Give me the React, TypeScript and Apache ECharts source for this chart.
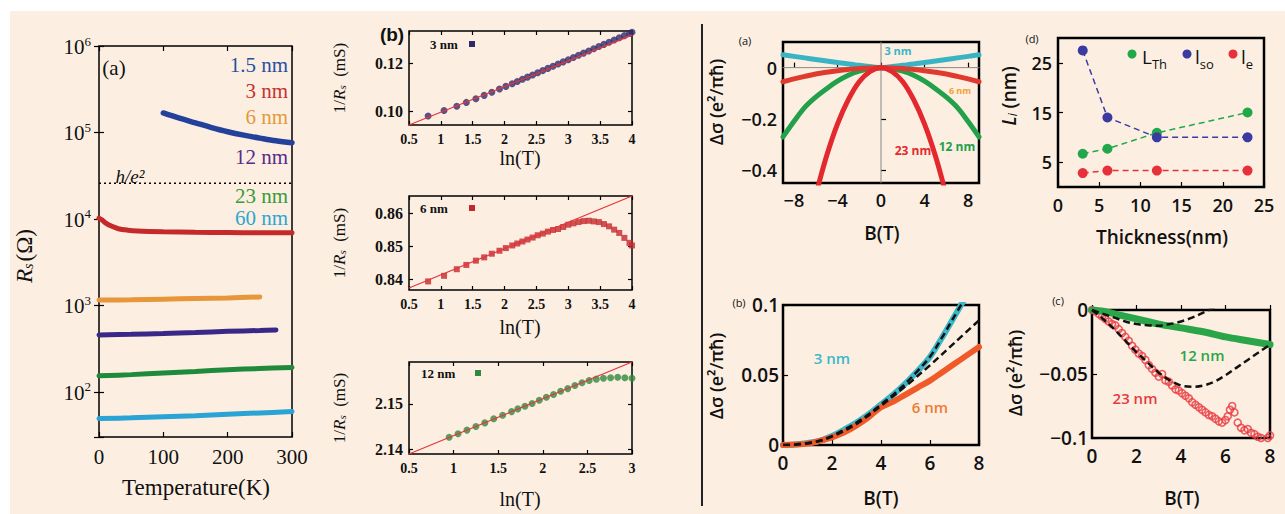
import React, { useEffect, useRef } from "react";
import * as echarts from "echarts";

// ---------- Left panel (a): R_s vs Temperature ----------
const tA15 = [100, 125, 150, 175, 200, 225, 250, 275, 300];
const rA15 = [168000, 146000, 129000, 114000, 102000, 93000, 86000, 80000, 76000];
const tA3 = [0, 5, 10, 20, 30, 45, 60, 100, 150, 200, 250, 300];
const rA3 = [10200, 9700, 9000, 8200, 7700, 7400, 7250, 7100, 7000, 6950, 6900, 6900];
const tA6 = [0, 50, 100, 150, 200, 250];
const rA6 = [1150, 1160, 1180, 1200, 1220, 1250];
const tA12 = [0, 50, 100, 150, 200, 250, 275];
const rA12 = [455, 462, 472, 485, 500, 512, 520];
const tA23 = [0, 50, 100, 150, 200, 250, 300];
const rA23 = [153, 158, 165, 172, 180, 186, 191];
const tA60 = [0, 50, 100, 150, 200, 250, 300];
const rA60 = [49, 50, 51.5, 53, 55, 57, 59];
const hOverE2 = 25813;

// ---------- Middle panels (b): 1/R_s vs ln(T) ----------
const lnT1 = [0.8, 1.05, 1.25, 1.4, 1.55, 1.68, 1.8, 1.92, 2.02, 2.12, 2.2, 2.28, 2.36, 2.44, 2.52, 2.6, 2.68, 2.76, 2.84, 2.92, 3.0, 3.08, 3.16, 3.24, 3.32, 3.4, 3.48, 3.56, 3.64, 3.72, 3.8, 3.88, 3.96, 4.0];
const g1 = [0.0982, 0.1005, 0.1022, 0.1038, 0.1053, 0.1067, 0.108, 0.1093, 0.1104, 0.1115, 0.1124, 0.1133, 0.1142, 0.1151, 0.116, 0.1169, 0.1178, 0.1187, 0.1196, 0.1205, 0.1214, 0.1223, 0.1232, 0.1241, 0.125, 0.1259, 0.1268, 0.1277, 0.1286, 0.1295, 0.1304, 0.1313, 0.1322, 0.1327];
const fit1X = [0.5, 4];
const fit1Y = [0.0945, 0.1315];

const lnT2 = [0.8, 1.05, 1.25, 1.4, 1.55, 1.68, 1.8, 1.92, 2.02, 2.12, 2.2, 2.28, 2.36, 2.44, 2.52, 2.6, 2.68, 2.76, 2.84, 2.92, 3.0, 3.08, 3.16, 3.24, 3.32, 3.4, 3.48, 3.56, 3.64, 3.72, 3.8, 3.88, 3.96, 4.0];
const g2 = [0.8393, 0.841, 0.843, 0.8443, 0.8456, 0.8466, 0.8477, 0.8486, 0.8494, 0.8502, 0.8508, 0.8514, 0.852, 0.8526, 0.8533, 0.8538, 0.8544, 0.8549, 0.8552, 0.8558, 0.8565, 0.8569, 0.8573, 0.8576, 0.8577, 0.8575, 0.8573, 0.8567, 0.856, 0.855, 0.854, 0.8525, 0.851, 0.8502];
const fit2X = [0.5, 4];
const fit2Y = [0.8373, 0.8652];

const lnT3 = [0.95, 1.05, 1.15, 1.25, 1.35, 1.45, 1.55, 1.65, 1.72, 1.8, 1.88, 1.96, 2.04, 2.12, 2.2, 2.28, 2.36, 2.44, 2.52, 2.6, 2.68, 2.76, 2.84, 2.92, 3.0];
const g3 = [2.1426, 2.1434, 2.1442, 2.145, 2.1458, 2.1467, 2.1475, 2.1483, 2.1489, 2.1495, 2.1501, 2.1508, 2.1515, 2.1521, 2.1528, 2.1534, 2.1541, 2.1547, 2.1552, 2.1555, 2.1557, 2.1558, 2.1559, 2.1558, 2.1557];
const fit3X = [0.5, 3];
const fit3Y = [2.1389, 2.1593];

// ---------- Right (a): Δσ vs B, symmetric ----------
const bA = [-9, -8, -7, -6, -5, -4, -3, -2, -1, 0, 1, 2, 3, 4, 5, 6, 7, 8, 9];
const dA3 = [0.05, 0.044, 0.038, 0.032, 0.026, 0.02, 0.014, 0.009, 0.004, 0, 0.004, 0.009, 0.014, 0.02, 0.026, 0.032, 0.038, 0.044, 0.05];
const dA6 = [-0.055, -0.044, -0.034, -0.025, -0.018, -0.012, -0.007, -0.003, -0.001, 0, -0.001, -0.003, -0.007, -0.012, -0.018, -0.025, -0.034, -0.044, -0.055];
const dA12 = [-0.27, -0.21, -0.155, -0.115, -0.082, -0.053, -0.03, -0.014, -0.004, 0, -0.004, -0.014, -0.03, -0.053, -0.082, -0.115, -0.155, -0.21, -0.27];
const bA23 = [-7, -6, -5, -4, -3, -2, -1, 0, 1, 2, 3, 4, 5, 6, 7];
const dA23 = [-0.68, -0.5, -0.345, -0.22, -0.125, -0.055, -0.015, 0, -0.015, -0.055, -0.125, -0.22, -0.345, -0.5, -0.68];

// ---------- Right (d): lengths vs thickness ----------
const thick = [3, 6, 12, 23];
const lTh = [6.7, 7.7, 10.9, 15];
const lSo = [27.5, 14, 10, 10];
const lE = [2.8, 3.3, 3.3, 3.3];

// ---------- Right (b) ----------
const bB = [0, 0.5, 1, 1.5, 2, 2.5, 3, 3.5, 4, 4.5, 5, 5.5, 6, 6.5, 7, 7.5];
const dB3 = [0, 0.0004, 0.0015, 0.003, 0.0065, 0.011, 0.016, 0.022, 0.029, 0.036, 0.044, 0.053, 0.063, 0.077, 0.092, 0.107];
const bB6 = [0, 0.5, 1, 1.5, 2, 2.5, 3, 3.5, 4, 4.5, 5, 5.5, 6, 6.5, 7, 7.5, 8];
const dB6 = [0, 0.0003, 0.001, 0.003, 0.0055, 0.009, 0.014, 0.02, 0.027, 0.031, 0.036, 0.041, 0.046, 0.052, 0.058, 0.064, 0.07];
const bB6fit = [0, 1, 2, 3, 4, 5, 6, 7, 8];
const dB6fit = [0, 0.001, 0.006, 0.015, 0.028, 0.042, 0.057, 0.073, 0.089];

// ---------- Right (c) ----------
const bC12 = [0, 0.5, 1, 2, 3, 4, 5, 6, 7, 8];
const dC12 = [0, -0.001, -0.003, -0.007, -0.011, -0.014, -0.017, -0.021, -0.024, -0.027];
const bC12fit = [0, 0.5, 1, 1.5, 2, 2.5, 3, 3.5, 4, 4.5, 5, 5.5, 6];
const dC12fit = [0, -0.003, -0.006, -0.009, -0.011, -0.012, -0.0123, -0.011, -0.009, -0.006, -0.002, 0.002, 0.007];
const bC23 = [0, 0.15, 0.3, 0.45, 0.6, 0.75, 0.9, 1.05, 1.2, 1.35, 1.5, 1.65, 1.8, 1.95, 2.1, 2.25, 2.4, 2.55, 2.7, 2.85, 3.0, 3.15, 3.3, 3.45, 3.6, 3.75, 3.9, 4.05, 4.2, 4.35, 4.5, 4.65, 4.8, 4.95, 5.1, 5.25, 5.4, 5.55, 5.7, 5.85, 6.0, 6.1, 6.2, 6.3, 6.4, 6.55, 6.7, 6.85, 7.0, 7.15, 7.3, 7.45, 7.6, 7.75, 7.9, 8.0];
const dC23 = [0, -0.001, -0.003, -0.005, -0.007, -0.009, -0.011, -0.012, -0.015, -0.018, -0.021, -0.024, -0.028, -0.031, -0.034, -0.036, -0.039, -0.043, -0.046, -0.049, -0.052, -0.05, -0.055, -0.056, -0.059, -0.062, -0.063, -0.065, -0.067, -0.069, -0.072, -0.074, -0.076, -0.078, -0.08, -0.082, -0.083, -0.085, -0.087, -0.088, -0.086, -0.083, -0.078, -0.075, -0.08, -0.088, -0.092, -0.094, -0.093, -0.096, -0.097, -0.099, -0.1, -0.101, -0.1, -0.098];
const bC23fit = [0, 0.5, 1, 1.5, 2, 2.5, 3, 3.5, 4, 4.5, 5, 5.5, 6, 6.5, 7, 7.5, 8];
const dC23fit = [0, -0.007, -0.015, -0.024, -0.033, -0.041, -0.049, -0.055, -0.059, -0.06, -0.059, -0.056, -0.051, -0.045, -0.039, -0.033, -0.027];

const SERIF = '"Liberation Serif", "DejaVu Serif", serif';
const SANS = '"Open Sans", "Liberation Sans", sans-serif';
const BG = "#fcefe2";

const zip = (xs: number[], ys: number[]) => xs.map((x, i) => [x, ys[i]]);
const minus = (v: number) => String(Number(v.toFixed(4))).replace("-", "\u2212");

export default function App() {
  const ref = useRef<HTMLDivElement>(null);
  useEffect(() => {
    if (!ref.current) return;
    const chart = echarts.init(ref.current, undefined, { renderer: "svg" });

    const grids: any[] = [];
    const xAxes: any[] = [];
    const yAxes: any[] = [];
    const addGrid = (g: any, xc: any, yc: any, mirror: boolean, bw = 1.5) => {
      const gi = grids.length;
      grids.push({ ...g, show: true, borderColor: "#000", borderWidth: bw, backgroundColor: "transparent" });
      const xi = xAxes.length;
      xAxes.push({ gridIndex: gi, position: "bottom", ...xc });
      const yi = yAxes.length;
      yAxes.push({ gridIndex: gi, position: "left", ...yc });
      if (mirror) {
        xAxes.push({ ...xc, gridIndex: gi, position: "top", axisLabel: { ...(xc.axisLabel || {}), show: false } });
        yAxes.push({ ...yc, gridIndex: gi, position: "right", axisLabel: { ...(yc.axisLabel || {}), show: false } });
      }
      return { xi, yi };
    };
    const tick = (extra: any = {}) => ({ inside: true, length: 5, lineStyle: { color: "#000", width: 1.2 }, ...extra });
    const base = { axisLine: { show: false }, splitLine: { show: false } };

    // Left (a)
    const A = addGrid(
      { left: 99, top: 46, width: 193, height: 391 },
      { ...base, type: "value", min: 0, max: 300, interval: 100, axisTick: tick(), axisLabel: { fontFamily: SERIF, fontSize: 21, color: "#111", margin: 9 } },
      {
        ...base, type: "log", logBase: 10, min: 30, max: 1e6, axisTick: tick(),
        axisLabel: {
          color: "#111", margin: 8,
          formatter: (v: number) => {
            const e = Math.log10(v);
            if (Math.abs(e - Math.round(e)) > 1e-6) return "";
            return `{b|10}{s|${Math.round(e)}}`;
          },
          rich: {
            b: { fontFamily: SERIF, fontSize: 21, color: "#111", verticalAlign: "bottom" },
            s: { fontFamily: SERIF, fontSize: 13, color: "#111", verticalAlign: "bottom", padding: [0, 0, 10, 0] },
          },
        },
      },
      true
    );
    // Middle (b) panels
    const bx = (max: number) => ({ ...base, type: "value", min: 0.5, max, interval: 0.5, axisTick: tick({ length: 4 }), axisLabel: { fontFamily: SERIF, fontWeight: "bold", fontSize: 14, color: "#111", margin: 7 } });
    const by = (min: number, max: number, vals: number[]) => ({
      ...base, type: "value", min, max, axisTick: tick({ length: 4, customValues: vals }),
      axisLabel: { customValues: vals, formatter: (v: number) => v.toFixed(2), fontFamily: SERIF, fontWeight: "bold", fontSize: 16, color: "#111", margin: 6 },
    });
    const B1 = addGrid({ left: 409, top: 31, width: 223, height: 94 }, bx(4), by(0.0945, 0.1332, [0.1, 0.12]), true);
    const B2 = addGrid({ left: 409, top: 196, width: 223, height: 94 }, bx(4), by(0.8367, 0.8652, [0.84, 0.85, 0.86]), true);
    const B3 = addGrid({ left: 409, top: 362, width: 223, height: 92 }, bx(3), by(2.1389, 2.1593, [2.14, 2.15]), true);

    const rLab = { fontFamily: SANS, fontSize: 18, fontWeight: 600, color: "#111" };
    // Right (a)
    const RA = addGrid(
      { left: 783, top: 42, width: 196, height: 141 },
      { ...base, type: "value", min: -9, max: 9, axisTick: tick({ customValues: [-8, -4, 0, 4, 8] }), axisLabel: { ...rLab, customValues: [-8, -4, 0, 4, 8], formatter: minus, margin: 8 } },
      { ...base, type: "value", min: -0.45, max: 0.1, axisTick: tick({ customValues: [-0.4, -0.2, 0] }), axisLabel: { ...rLab, customValues: [-0.4, -0.2, 0], formatter: minus, margin: 6 } },
      false, 2.5
    );
    // Right (d)
    const RD = addGrid(
      { left: 1058, top: 38, width: 206, height: 149 },
      { ...base, type: "value", min: 0, max: 25, interval: 5, axisTick: tick(), axisLabel: { ...rLab, margin: 9 } },
      { ...base, type: "value", min: 0, max: 30, axisTick: tick({ customValues: [5, 15, 25] }), axisLabel: { ...rLab, customValues: [5, 15, 25], margin: 6 } },
      false, 2.5
    );
    // Right (b)
    const RB = addGrid(
      { left: 783, top: 305, width: 196, height: 140 },
      { ...base, type: "value", min: 0, max: 8, interval: 2, axisTick: tick(), axisLabel: { ...rLab, fontSize: 19, margin: 8 } },
      { ...base, type: "value", min: 0, max: 0.1, interval: 0.05, axisTick: tick(), axisLabel: { ...rLab, fontSize: 19, formatter: minus, margin: 4 } },
      false, 2.5
    );
    // Right (c)
    const RC = addGrid(
      { left: 1092, top: 310, width: 178, height: 128 },
      { ...base, type: "value", min: 0, max: 8, interval: 2, axisTick: tick(), axisLabel: { ...rLab, fontSize: 19, margin: 8 } },
      { ...base, type: "value", min: -0.1, max: 0, interval: 0.05, axisTick: tick(), axisLabel: { ...rLab, fontSize: 19, formatter: minus, margin: 4 } },
      false, 2.5
    );

    const line = (ax: any, xs: number[], ys: number[], color: string, width: number, extra: any = {}) => ({
      type: "line", xAxisIndex: ax.xi, yAxisIndex: ax.yi, data: zip(xs, ys), showSymbol: false, symbol: "none",
      smooth: 0.35, lineStyle: { color, width, cap: "round" }, ...extra,
    });
    const dashed = (ax: any, xs: number[], ys: number[]) =>
      line(ax, xs, ys, "#111", 2.5, { lineStyle: { color: "#111", width: 2.5, type: [7, 4] }, z: 5 });
    const scatter = (ax: any, xs: number[], ys: number[], color: string, symbol = "circle", size = 6, extra: any = {}) => ({
      type: "scatter", xAxisIndex: ax.xi, yAxisIndex: ax.yi, data: zip(xs, ys), symbol, symbolSize: size,
      itemStyle: { color }, ...extra,
    });

    const series: any[] = [
      // left (a)
      line(A, tA15, rA15, "#23409a", 5.5),
      line(A, tA3, rA3, "#c42a2a", 5),
      line(A, tA6, rA6, "#e8963a", 5),
      line(A, tA12, rA12, "#3a2888", 5),
      line(A, tA23, rA23, "#1f8a3c", 5),
      line(A, tA60, rA60, "#2aa3d5", 5),
      line(A, [0, 300], [hOverE2, hOverE2], "#000", 1.5, { smooth: false, lineStyle: { color: "#000", width: 1.5, type: [2, 3] } }),
      // middle (b)
      scatter(B1, lnT1, g1, "#2f2a6c", "circle", 7),
      line(B1, fit1X, fit1Y, "#e8343c", 1.2, { smooth: false, z: 4 }),
      scatter(B2, lnT2, g2, "#c4282c", "rect", 6),
      line(B2, fit2X, fit2Y, "#e8343c", 1.2, { smooth: false, z: 4 }),
      scatter(B3, lnT3, g3, "#2f8a3e", "circle", 7),
      line(B3, fit3X, fit3Y, "#e8343c", 1.2, { smooth: false, z: 4 }),
      // right (a)
      line(RA, [0, 0], [-0.45, 0.1], "#888", 1, { smooth: false }),
      line(RA, [-9, 9], [0, 0], "#888", 1, { smooth: false }),
      line(RA, bA, dA3, "#3ab4c4", 5),
      line(RA, bA, dA12, "#22a04a", 5),
      line(RA, bA, dA6, "#e03a2e", 5),
      line(RA, bA23, dA23, "#e3282e", 5),
      // right (d)
      ...[
        [lTh, "#22a84a"],
        [lSo, "#3a3aa0"],
        [lE, "#e8303a"],
      ].map(([ys, c]: any) => ({
        type: "line", xAxisIndex: RD.xi, yAxisIndex: RD.yi, data: zip(thick, ys), symbol: "circle", symbolSize: 10,
        itemStyle: { color: c }, lineStyle: { color: c, width: 1.5, type: [6, 4] },
      })),
      // right (b)
      line(RB, bB, dB3, "#3ab8c8", 6),
      line(RB, bB6, dB6, "#f05a28", 6),
      dashed(RB, bB, dB3),
      dashed(RB, bB6fit, dB6fit),
      // right (c)
      line(RC, bC12, dC12, "#2aa548", 7),
      scatter(RC, bC23, dC23, "transparent", "circle", 7, { itemStyle: { color: "transparent", borderColor: "#e83a40", borderWidth: 1.6 } }),
      dashed(RC, bC12fit, dC12fit),
      dashed(RC, bC23fit, dC23fit),
    ];

    const txt = (text: string, x: number, y: number, o: any = {}) => ({
      type: "text", x, y, rotation: o.rotation || 0, z: 100,
      style: { text, fill: o.fill || "#111", fontSize: o.fontSize || 16, fontFamily: o.fontFamily || SANS, fontWeight: o.fontWeight || "normal", fontStyle: o.fontStyle || "normal", align: o.align || "center", verticalAlign: "middle", rich: o.rich },
    });
    const ser = (size: number, extra: any = {}) => ({ fontFamily: SERIF, fontSize: size, ...extra });
    const ROT = Math.PI / 2;

    const graphic: any[] = [
      { type: "rect", shape: { x: 10, y: 11, width: 1275, height: 503 }, style: { fill: BG }, z: -10, silent: true },
      { type: "line", shape: { x1: 702, y1: 24, x2: 702, y2: 506 }, style: { stroke: "#222", lineWidth: 2 }, z: 100 },
      // left (a)
      txt("(a)", 114, 68, ser(21)),
      txt("1.5 nm", 288, 65, { ...ser(21), align: "right", fill: "#2a4f9f" }),
      txt("3 nm", 288, 91, { ...ser(21), align: "right", fill: "#c8302c" }),
      txt("6 nm", 288, 117, { ...ser(21), align: "right", fill: "#e39a3a" }),
      txt("12 nm", 288, 157, { ...ser(21), align: "right", fill: "#5a2a8a" }),
      txt("23 nm", 288, 196, { ...ser(21), align: "right", fill: "#3a9a3a" }),
      txt("60 nm", 288, 218, { ...ser(21), align: "right", fill: "#2fa6d0" }),
      txt("h/e\u00b2", 130, 176, { ...ser(19), fontStyle: "italic" }),
      txt("Temperature(K)", 196, 487, ser(23)),
      txt("{i|R}{s|s}{n|(\u03a9)}", 24, 256, {
        rotation: ROT,
        rich: {
          i: { fontFamily: SERIF, fontSize: 23, fontStyle: "italic", fill: "#111" },
          s: { fontFamily: SERIF, fontSize: 14, fontStyle: "italic", fill: "#111", verticalAlign: "bottom", padding: [0, 2, 0, 0] },
          n: { fontFamily: SERIF, fontSize: 23, fill: "#111" },
        },
      }),
      // middle (b)
      txt("(b)", 392, 34, { fontFamily: '"Liberation Sans", sans-serif', fontSize: 19, fontWeight: "bold" }),
      txt("3 nm", 430, 44, { ...ser(13), fontWeight: "bold", align: "left" }),
      { type: "rect", shape: { x: 469, y: 41, width: 6, height: 6 }, style: { fill: "#2f2a6c" }, z: 100 },
      txt("6 nm", 420, 208, { ...ser(13), fontWeight: "bold", align: "left" }),
      { type: "rect", shape: { x: 469, y: 205, width: 6, height: 6 }, style: { fill: "#c4282c" }, z: 100 },
      txt("12 nm", 421, 373, { ...ser(13), fontWeight: "bold", align: "left" }),
      { type: "rect", shape: { x: 475, y: 370, width: 6, height: 6 }, style: { fill: "#2f8a3e" }, z: 100 },
      ...[78, 243, 408].map((cy) =>
        txt("{n|1/}{i|R}{s|s}{n|  (mS)}", 339, cy, {
          rotation: ROT,
          rich: {
            n: { fontFamily: SERIF, fontSize: 17, fill: "#111" },
            i: { fontFamily: SERIF, fontSize: 17, fontStyle: "italic", fill: "#111" },
            s: { fontFamily: SERIF, fontSize: 11, fontStyle: "italic", fill: "#111", verticalAlign: "bottom" },
          },
        })
      ),
      txt("ln(T)", 520, 158, ser(20)),
      txt("ln(T)", 520, 327, ser(20)),
      txt("ln(T)", 520, 499, ser(20)),
      // right (a)
      txt("(a)", 745, 40, { fontSize: 11 }),
      txt("3 nm", 898, 50, { fontSize: 11, fontWeight: "bold", fill: "#3ab4c4" }),
      txt("6 nm", 960, 90, { fontSize: 9, fontWeight: "bold", fill: "#f0a030" }),
      txt("23 nm", 913, 150, { fontSize: 12, fontWeight: "bold", fill: "#e3282e" }),
      txt("12 nm", 957, 146, { fontSize: 12, fontWeight: "bold", fill: "#22a04a" }),
      txt("\u0394\u03c3 (e\u00b2/\u03c0\u0127)", 716, 102, { rotation: ROT, fontSize: 18, fontWeight: 600 }),
      txt("B(T)", 882, 233, { fontSize: 19, fontWeight: 600 }),
      // right (d)
      txt("(d)", 1032, 38, { fontSize: 11 }),
      txt("{i|L}{s|i}{n| (nm)}", 1009, 96, {
        rotation: ROT,
        rich: {
          i: { fontFamily: SANS, fontSize: 19, fontStyle: "italic", fontWeight: 600, fill: "#111" },
          s: { fontFamily: SANS, fontSize: 12, fontStyle: "italic", fill: "#111", verticalAlign: "bottom" },
          n: { fontFamily: SANS, fontSize: 19, fontWeight: 600, fill: "#111" },
        },
      }),
      txt("Thickness(nm)", 1162, 237, { fontSize: 19, fontWeight: 600 }),
      { type: "circle", shape: { cx: 1132, cy: 54, r: 4.5 }, style: { fill: "#22a84a" }, z: 100 },
      { type: "circle", shape: { cx: 1187, cy: 54, r: 4.5 }, style: { fill: "#3a3aa0" }, z: 100 },
      { type: "circle", shape: { cx: 1233, cy: 54, r: 4.5 }, style: { fill: "#e8303a" }, z: 100 },
      ...[
        ["L", "Th", 1142],
        ["l", "so", 1195],
        ["l", "e", 1241],
      ].map(([m, s, x]: any) =>
        txt(`{m|${m}}{s|${s}}`, x, 57, {
          align: "left",
          rich: {
            m: { fontFamily: SANS, fontSize: 19, fill: "#111" },
            s: { fontFamily: SANS, fontSize: 13, fill: "#111", verticalAlign: "bottom", padding: [0, 0, -4, 0] },
          },
        })
      ),
      // right (b)
      txt("(b)", 739, 302, { fontSize: 11 }),
      txt("3 nm", 832, 358, { fontSize: 15, fontWeight: 600, fill: "#3ab8c8" }),
      txt("6 nm", 930, 407, { fontSize: 15, fontWeight: 600, fill: "#f07a30" }),
      txt("\u0394\u03c3 (e\u00b2/\u03c0\u0127)", 716, 376, { rotation: ROT, fontSize: 18, fontWeight: 600 }),
      txt("B(T)", 881, 498, { fontSize: 19, fontWeight: 600 }),
      // right (c)
      txt("(c)", 1058, 300, { fontSize: 11 }),
      txt("12 nm", 1202, 355, { fontSize: 15, fontWeight: 600, fill: "#2aa548" }),
      txt("23 nm", 1135, 398, { fontSize: 15, fontWeight: 600, fill: "#e83a40" }),
      txt("\u0394\u03c3 (e\u00b2/\u03c0\u0127)", 1015, 373, { rotation: ROT, fontSize: 18, fontWeight: 600 }),
      txt("B(T)", 1182, 498, { fontSize: 19, fontWeight: 600 }),
    ];

    chart.setOption({
      animation: false,
      backgroundColor: "#ffffff",
      grid: grids,
      xAxis: xAxes,
      yAxis: yAxes,
      series,
      graphic,
    });
    return () => chart.dispose();
  }, []);
  return <div ref={ref} style={{ position: "absolute", left: 0, top: 0, width: 1285, height: 514 }} />;
}
